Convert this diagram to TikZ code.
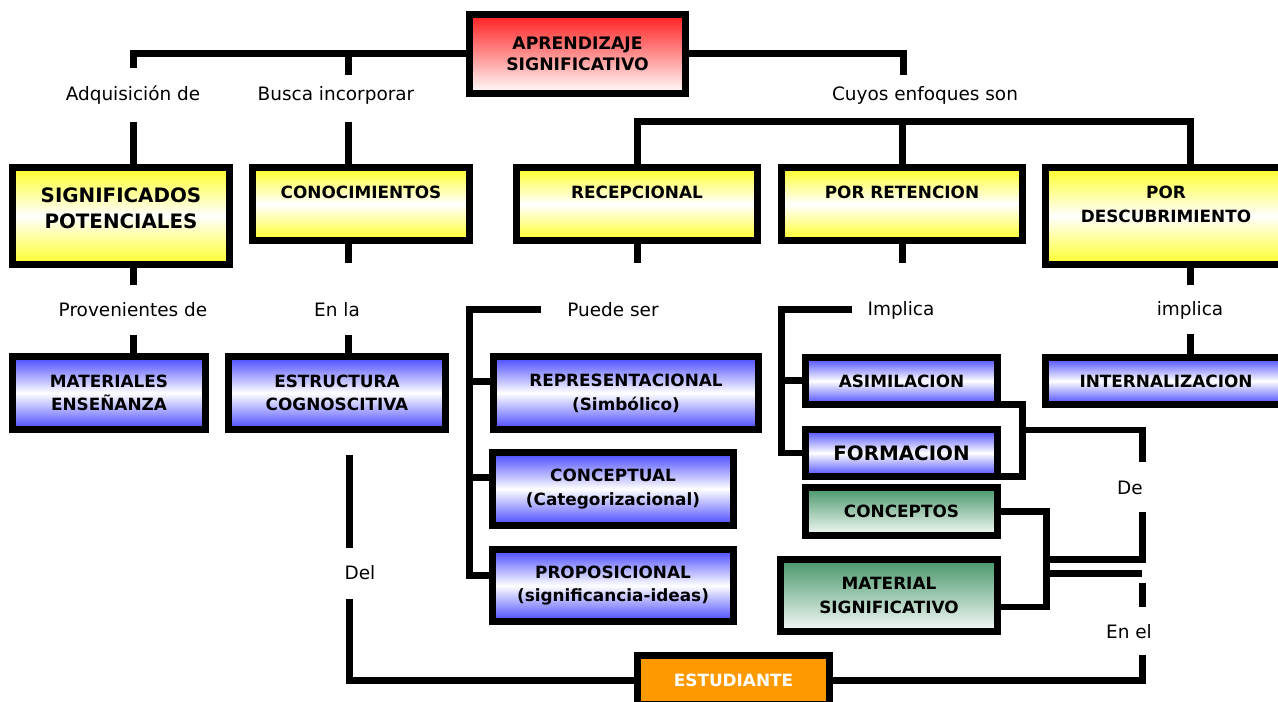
\documentclass[tikz,border=0pt]{standalone}
\usepackage{fontspec}
\setmainfont{DejaVu Sans}

\definecolor{yel}{RGB}{255,255,40}
\definecolor{blu}{RGB}{70,70,255}
\definecolor{grn}{RGB}{70,150,105}
\definecolor{redd}{RGB}{255,30,30}
\definecolor{org}{RGB}{255,153,0}

\newcommand{\boxfont}{\bfseries\fontsize{9.6}{13.5}\selectfont}
\newcommand{\bigboxfont}{\bfseries\fontsize{11.3}{14.8}\selectfont}
\newcommand{\topfont}{\bfseries\fontsize{9.8}{12}\selectfont}
\newcommand{\lblfont}{\fontsize{10.5}{12.6}\selectfont}

\begin{document}
\begin{tikzpicture}[x=0.02cm,y=-0.02cm,
                    conn/.style={line width=0.14cm},
                    sz/.style 2 args={minimum width=(#1-7)*0.02cm,
                                      minimum height=(#2-7)*0.02cm}]
  \tikzstyle{box}=[draw, line width=0.14cm, inner sep=0pt, align=center, font=\boxfont]
  \tikzstyle{ybox}=[box, top color=yel, bottom color=yel, middle color=white]
  \tikzstyle{bbox}=[box, top color=blu, bottom color=blu, middle color=white]
  \tikzstyle{gbox}=[box, top color=grn, bottom color=grn!4]
  \tikzstyle{rbox}=[box, top color=redd, bottom color=white, font=\topfont]
  \tikzstyle{obox}=[box, fill=org, text=white]
  \tikzstyle{lbl}=[inner sep=0pt, font=\lblfont]
  \useasboundingbox (0,0) rectangle (1278,702);

 % boxes
 \node[rbox, sz={223}{86}] (aprend) at (577.5,54) {APRENDIZAJE\\SIGNIFICATIVO};

 \node[ybox, sz={224}{104}, font=\bigboxfont] (sigpot) at (121,216) {SIGNIFICADOS\\POTENCIALES\\[-6pt]\mbox{}};
 \node[ybox, sz={224}{80}] (conoc) at (361,204) {CONOCIMIENTOS\\\mbox{}};
 \node[ybox, sz={248}{80}] (recep) at (637,204) {RECEPCIONAL\\\mbox{}};
 \node[ybox, sz={248}{80}] (porret) at (902,204) {POR RETENCION\\\mbox{}};
 \node[ybox, sz={248}{104}] (pordesc) at (1166,216) {POR\\DESCUBRIMIENTO\\\mbox{}};

 \node[bbox, sz={200}{80}] (matens) at (109,393) {MATERIALES\\ENSEÑANZA};
 \node[bbox, sz={224}{80}] (estruc) at (337,393) {ESTRUCTURA\\COGNOSCITIVA};
 \node[bbox, sz={272}{80}] (repr) at (626,393) {REPRESENTACIONAL\\(Simbólico)};
 \node[bbox, sz={248}{80}] (concept) at (613,489) {CONCEPTUAL\\(Categorizacional)};
 \node[bbox, sz={248}{79}] (propos) at (613,585.5) {PROPOSICIONAL\\(significancia-ideas)};
 \node[bbox, sz={199}{54}] (asimil) at (901.5,381) {ASIMILACION};
 \node[bbox, sz={199}{54}, font=\bigboxfont] (formac) at (901.5,453) {FORMACION};
 \node[bbox, sz={248}{54}] (intern) at (1166,381) {INTERNALIZACION};

 \node[gbox, sz={199}{55}] (concptos) at (901.5,511.5) {CONCEPTOS};
 \node[gbox, sz={224}{79}] (matsig) at (889,595.5) {MATERIAL\\SIGNIFICATIVO};
 \node[obox, sz={199}{56}] (estud) at (733.5,680) {ESTUDIANTE};

 % labels
 \node[lbl] (adq) at (133,95) {Adquisición de};
 \node[lbl] (busca) at (336,95) {Busca incorporar};
 \node[lbl] (cuyos) at (925,95) {Cuyos enfoques son};
 \node[lbl] (prov) at (133,310) {Provenientes de};
 \node[lbl] (enla) at (337,310) {En la};
 \node[lbl] (puede) at (613,310) {Puede ser};
 \node[lbl] (impl1) at (901,310) {Implica};
 \node[lbl] (impl2) at (1190,310) {implica};
 \node[lbl] (de) at (1130,488) {De};
 \node[lbl] (enel) at (1129,632) {En el};
 \node[lbl] (del) at (360,573) {Del};

 % free ends
 \coordinate (a1) at (133,68);  \coordinate (b1) at (348,75);  \coordinate (c1) at (903,75);
 \coordinate (a2) at (133,122); \coordinate (b2) at (348,122); \coordinate (cuyR) at (1190,122);
 \coordinate (a3) at (133,285); \coordinate (b3) at (348,263); \coordinate (r3) at (637,263);
 \coordinate (p3) at (902,263); \coordinate (d3) at (1190,285);
 \coordinate (a4) at (133,335); \coordinate (b4) at (348,335); \coordinate (d4) at (1190,334);
 \coordinate (pu1) at (541,310); \coordinate (pu3) at (469,575);
 \coordinate (im1) at (852,310); \coordinate (im2) at (781,381);
 \coordinate (fr) at (1022,430); \coordinate (de1) at (1142,462); \coordinate (de2) at (1142,512);
 \coordinate (cm) at (1046,559); \coordinate (cm2) at (1046,573);
 \coordinate (enel1) at (1142,573); \coordinate (enel2) at (1142,583);
 \coordinate (enel3) at (1142,607); \coordinate (enel4) at (1142,655);
 \coordinate (del1) at (349,455); \coordinate (del2) at (349,548); \coordinate (del3) at (349,599);

 % connectors
 \draw[conn] (a1) |- (aprend.west);
 \draw[conn] (b1) -- (b1 |- aprend.west);
 \draw[conn] (aprend.east) -| (c1);
 \draw[conn] (a2) -- (a2 |- sigpot.north);
 \draw[conn] (b2) -- (b2 |- conoc.north);
 \draw[conn] (recep.north) |- (cuyR) -- (cuyR |- pordesc.north);
 \draw[conn] (porret.north) -- (porret.north |- cuyR);

 \draw[conn] (a2 |- sigpot.south) -- (a3);
 \draw[conn] (b2 |- conoc.south) -- (b3);
 \draw[conn] (recep.south) -- (r3);
 \draw[conn] (porret.south) -- (p3);
 \draw[conn] (cuyR |- pordesc.south) -- (d3);

 \draw[conn] (a4) -- (a4 |- matens.north);
 \draw[conn] (b4) -- (b4 |- estruc.north);
 \draw[conn] (d4) -- (d4 |- intern.north);

 \draw[conn] (pu1) -| (pu3) -- (pu3 -| propos.west);
 \draw[conn] ([yshift=0.24cm]repr.west -| pu3) -- ([yshift=0.24cm]repr.west);
 \draw[conn] ([yshift=0.24cm]concept.west -| pu3) -- ([yshift=0.24cm]concept.west);

 \draw[conn] (im1) -| (im2) |- (formac.west);
 \draw[conn] (im2) -- (asimil.west);
 \draw[conn] ([yshift=0.07cm]asimil.south east) -| (fr) |- ([yshift=0.07cm]formac.south east);
 \draw[conn] (fr) -| (de1);

 \draw[conn] (concptos.east) -| (cm) |- ([yshift=-0.23cm]matsig.east);
 \draw[conn] (de2) |- (cm);
 \draw[conn] (cm2) -- (enel1);
 \draw[conn] (enel2) -- (enel3);
 \draw[conn] (enel4) |- (estud.east);

 \draw[conn] (del1) -- (del2);
 \draw[conn] (del3) |- (estud.west);

\end{tikzpicture}
\end{document}
